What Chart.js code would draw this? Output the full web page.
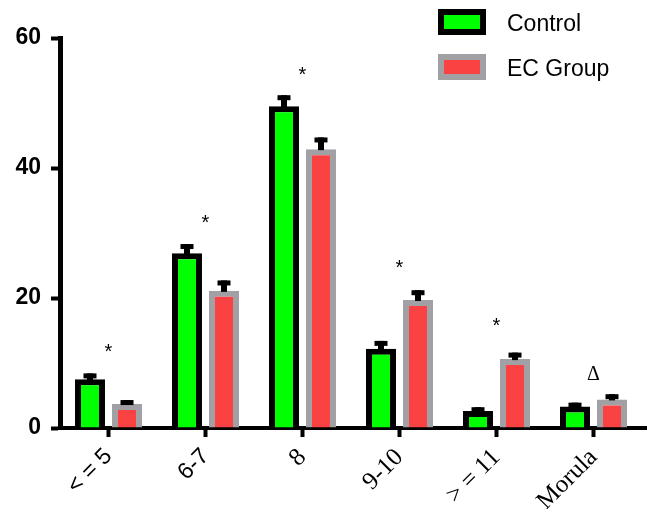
<!DOCTYPE html>
<html>
<head>
<meta charset="utf-8">
<script src="https://cdn.jsdelivr.net/npm/chart.js@4.4.0/dist/chart.umd.min.js"></script>
<style>
  html, body { margin: 0; padding: 0; background: #fff; }
  #wrap { width: 647px; height: 509px; }
</style>
</head>
<body>
<div id="wrap"><canvas id="chart" width="647" height="509"></canvas></div>
<script>
const categories = ['< = 5', '6-7', '8', '9-10', '> = 11', 'Morula']
const controlValues = [7.5, 26.9, 49.5, 12.2, 2.6, 3.3]
const controlErrors = [0.9, 1.4, 1.7, 1.2, 0.6, 0.6]
const ecValues = [3.7, 21.1, 42.9, 19.7, 10.6, 4.4]
const ecErrors = [0.6, 1.6, 1.8, 1.5, 1.0, 0.8]
const markLabels = ['*', '*', '*', '*', '*', 'Δ']
const markValues = [12.3, 32.1, 54.8, 25.2, 16.2, 8.2]
const yTicks = [0, 20, 40, 60]

const errorBars = {
  id: 'errorBars',
  afterDatasetsDraw(chart) {
    const ctx = chart.ctx
    const y = chart.scales.y
    chart.data.datasets.forEach((ds, di) => {
      const meta = chart.getDatasetMeta(di)
      meta.data.forEach((bar, i) => {
        const top = y.getPixelForValue(ds.data[i] + ds.errors[i])
        ctx.save()
        ctx.fillStyle = '#000'
        ctx.fillRect(bar.x - 3, top, 6, bar.y - top + 1)
        ctx.fillRect(bar.x - 6.5, top, 13, 5)
        ctx.restore()
      })
    })
  },
}

const marks = {
  id: 'marks',
  afterDatasetsDraw(chart) {
    const ctx = chart.ctx
    const x = chart.scales.x
    const y = chart.scales.y
    ctx.save()
    ctx.fillStyle = '#000'
    ctx.textAlign = 'center'
    ctx.textBaseline = 'middle'
    markLabels.forEach((m, i) => {
      ctx.font = m === '*' ? '20px "Liberation Sans", Arial' : '20px "Liberation Serif", "Times New Roman"'
      ctx.fillText(m, x.getPixelForValue(i), y.getPixelForValue(markValues[i]) + (m === '*' ? 4 : 0))
    })
    // axis line runs a little past the last category
    ctx.fillRect(chart.chartArea.right, chart.chartArea.bottom - 2, 5, 4)
    ctx.restore()
  },
}

const legendBoxes = {
  id: 'legendBoxes',
  afterDraw(chart) {
    const ctx = chart.ctx
    const left = chart.chartArea.right - 204
    ctx.save()
    chart.data.datasets.forEach((ds, i) => {
      const top = 9 + i * 45
      ctx.fillStyle = ds.borderColor
      ctx.fillRect(left, top, 48, 26)
      ctx.fillStyle = ds.backgroundColor
      ctx.fillRect(left + 6, top + 6, 36, 14)
      ctx.fillStyle = '#000'
      ctx.font = '23px "Liberation Sans", Arial'
      ctx.textBaseline = 'middle'
      ctx.fillText(ds.label, left + 69, top + 16)
    })
    ctx.restore()
  },
}

new Chart(document.getElementById('chart'), {
  type: 'bar',
  data: {
    labels: categories,
    datasets: [
      {
        label: 'Control',
        data: controlValues,
        errors: controlErrors,
        backgroundColor: '#00ff00',
        borderColor: '#000000',
        borderWidth: 6,
        borderSkipped: 'start',
        categoryPercentage: 0.763,
        barPercentage: 0.81,
      },
      {
        label: 'EC Group',
        data: ecValues,
        errors: ecErrors,
        backgroundColor: '#fa4242',
        borderColor: '#a1a1a5',
        borderWidth: 6,
        borderSkipped: 'start',
        categoryPercentage: 0.763,
        barPercentage: 0.81,
      },
    ],
  },
  options: {
    responsive: false,
    animation: false,
    layout: { padding: { top: 38, right: 5, left: 0, bottom: 0 } },
    plugins: { legend: { display: false }, tooltip: { enabled: false } },
    scales: {
      x: {
        afterFit: (s) => { s.height = 81 },
        border: { color: '#000', width: 4 },
        grid: { offset: false, drawOnChartArea: false, tickLength: 9, tickWidth: 4, tickColor: '#000' },
        ticks: {
          color: '#000',
          minRotation: 45,
          maxRotation: 45,
          padding: 6,
          font: (c) => c.index < 2
            ? { family: '"Liberation Sans", Arial', size: 23 }
            : { family: '"Liberation Serif", "Times New Roman"', size: 25 },
        },
      },
      y: {
        min: 0,
        max: 60,
        afterFit: (s) => { s.width = 60 },
        afterBuildTicks: (s) => { s.ticks = yTicks.map((v) => ({ value: v })) },
        border: { color: '#000', width: 5 },
        grid: { drawOnChartArea: false, tickLength: 9, tickWidth: 4, tickColor: '#000' },
        ticks: {
          color: '#000',
          padding: 10,
          font: { family: '"Liberation Sans", Arial', size: 23, weight: 'bold' },
        },
      },
    },
  },
  plugins: [errorBars, marks, legendBoxes],
})
</script>
</body>
</html>
